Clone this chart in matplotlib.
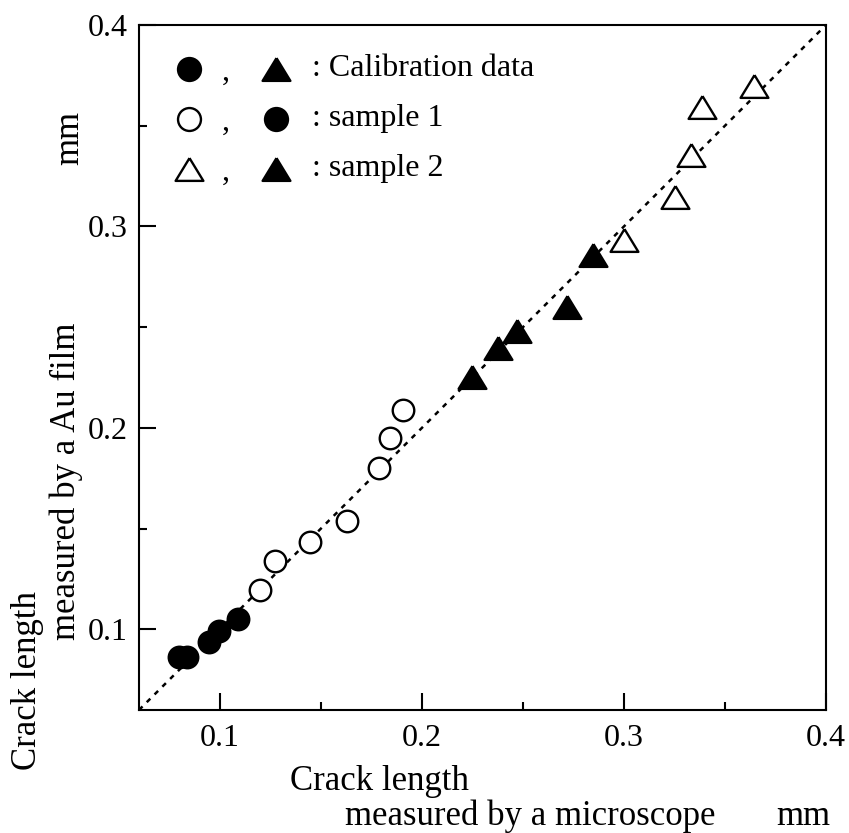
import numpy as np
import matplotlib.pyplot as plt
from matplotlib.ticker import MultipleLocator

plt.rcParams['font.family'] = ['Liberation Serif', 'DejaVu Serif']

# sample 1: calibration points (filled) and measured points (open)
s1_cal_x = [0.0799, 0.0839, 0.0946, 0.0997, 0.1091]
s1_cal_y = [0.0861, 0.0861, 0.0937, 0.0994, 0.1053]
s1_x = [0.1198, 0.1272, 0.1446, 0.1629, 0.1787, 0.1842, 0.1906]
s1_y = [0.1194, 0.1338, 0.1433, 0.1537, 0.1800, 0.1950, 0.2090]

# sample 2: calibration points (filled) and measured points (open)
s2_cal_x = [0.2246, 0.2378, 0.2469, 0.2716, 0.2848]
s2_cal_y = [0.2255, 0.2398, 0.2479, 0.2602, 0.2856]
s2_x = [0.3000, 0.3252, 0.3330, 0.3385, 0.3643]
s2_y = [0.2932, 0.3146, 0.3354, 0.3591, 0.3698]

ref_line = [0.06, 0.4]

# wider-than-tall triangle like the original
tri = [(0, 0.82), (-1, -0.82), (1, -0.82), (0, 0.82)]

fig = plt.figure(figsize=(8.49, 8.33), dpi=100)
ax = fig.add_axes([0.1637, 0.1477, 0.8092, 0.8223])

ax.plot(ref_line, ref_line, color='black', lw=1.8, ls=(0, (2, 2.4)), zorder=1)

circ = dict(marker='o', ms=15.5, mew=1.7, ls='none', zorder=3)
trim = dict(marker=tri, ms=20, mew=1.7, ls='none', zorder=3)
ax.plot(s1_cal_x, s1_cal_y, mfc='black', mec='black', **circ)
ax.plot(s1_x, s1_y, mfc='white', mec='black', **circ)
ax.plot(s2_cal_x, s2_cal_y, mfc='black', mec='black', **trim)
ax.plot(s2_x, s2_y, mfc='white', mec='black', **trim)

# hand-made legend in the upper-left corner
rows = [
    (('o', 'black'), (tri, 'black'), ': Calibration data'),
    (('o', 'white'), ('o', 'black'), ': sample 1'),
    ((tri, 'white'), (tri, 'black'), ': sample 2'),
]
x1, xc, x2, xt = 0.073, 0.126, 0.199, 0.252
for i, (m1, m2, txt) in enumerate(rows):
    yy = 0.936 - i * 0.073
    for xm, (mk, fc) in ((x1, m1), (x2, m2)):
        ms = 20 if mk is tri else 16.5
        ax.plot([xm], [yy], transform=ax.transAxes, marker=mk, ms=ms,
                mfc=fc, mec='black', mew=1.7, ls='none', clip_on=False)
    ax.text(xc, yy - 0.005, ',', transform=ax.transAxes, fontsize=23,
            ha='center', va='center')
    ax.text(xt, yy, txt, transform=ax.transAxes, fontsize=23,
            ha='left', va='center')

ax.set_xlim(0.06, 0.4)
ax.set_ylim(0.06, 0.4)
ax.xaxis.set_major_locator(MultipleLocator(0.1))
ax.yaxis.set_major_locator(MultipleLocator(0.1))
ax.xaxis.set_minor_locator(MultipleLocator(0.05))
ax.yaxis.set_minor_locator(MultipleLocator(0.05))
ax.xaxis.set_major_formatter(lambda v, p: f'{v:.1f}')
ax.yaxis.set_major_formatter(lambda v, p: f'{v:.1f}')
ax.tick_params(which='both', direction='in', top=False, right=False,
               width=1.5, labelsize=23)
ax.tick_params(axis='x', which='major', length=12, pad=10)
ax.tick_params(axis='y', which='major', length=12, pad=8)
ax.tick_params(which='minor', length=6)
for s in ax.spines.values():
    s.set_linewidth(1.5)

# axis titles, placed by hand like the original
fig.text(290 / 849, 1 - 790 / 833, 'Crack length', fontsize=25,
         ha='left', va='baseline')
fig.text(345 / 849, 1 - 825 / 833, 'measured by a microscope',
         fontsize=25, ha='left', va='baseline')
fig.text(830 / 849, 1 - 825 / 833, 'mm', fontsize=25,
         ha='right', va='baseline')
fig.text(28 / 849, 770 and 1 - 770 / 833, 'Crack length', fontsize=25,
         rotation=90, ha='center', va='bottom')
fig.text(66 / 849, 1 - 640 / 833, 'measured by a Au film', fontsize=25,
         rotation=90, ha='center', va='bottom')
fig.text(70 / 849, 1 - 165 / 833, 'mm', fontsize=25,
         rotation=90, ha='center', va='bottom')

fig.savefig('out.png', dpi=100)
